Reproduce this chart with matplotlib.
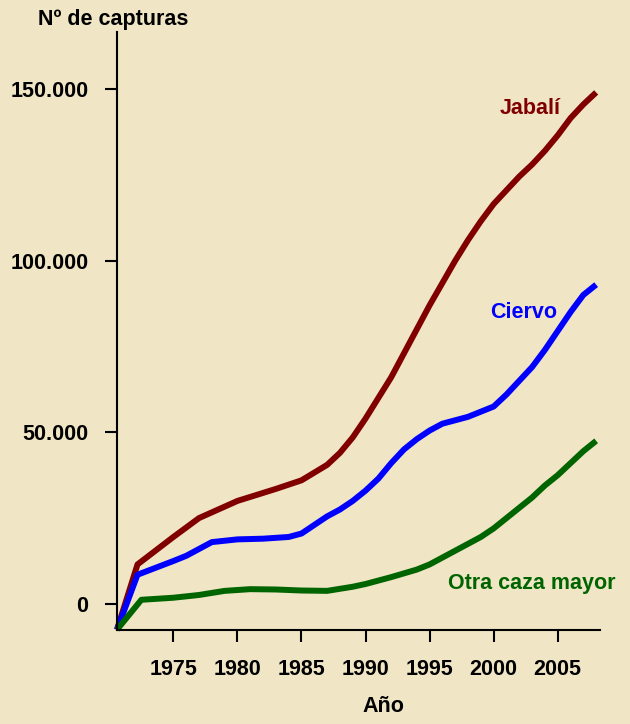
import matplotlib
matplotlib.use("Agg")
import matplotlib.pyplot as plt

# values (number of captures per year)
years_jabali = [1970.6, 1972.2, 1975, 1977, 1980, 1983, 1985, 1987, 1988, 1989, 1990,
                1991, 1992, 1993, 1994, 1995, 1996, 1997, 1998, 1999, 2000,
                2001, 2002, 2003, 2004, 2005, 2006, 2007, 2008]
jabali = [-7500, 11500, 19500, 25000, 30000, 33500, 36000, 40500, 44000, 48500, 54000,
          60000, 66000, 73000, 80000, 87000, 93500, 100000, 106000, 111500, 116500,
          120500, 124500, 128000, 132000, 136500, 141500, 145500, 149000]

years_ciervo = [1970.6, 1972.2, 1975, 1976, 1977, 1978, 1980, 1982, 1984, 1985, 1986,
                1987, 1988, 1989, 1990, 1991, 1992, 1993, 1994, 1995, 1996, 1997,
                1998, 1999, 2000, 2001, 2002, 2003, 2004, 2005, 2006, 2007, 2008]
ciervo = [-7500, 8500, 12500, 14000, 16000, 18000, 18800, 19000, 19500, 20500, 23000,
          25500, 27500, 30000, 33000, 36500, 41000, 45000, 48000, 50500, 52500, 53500,
          54500, 56000, 57500, 61000, 65000, 69000, 74000, 79500, 85000, 90000, 93000]

years_otra = [1970.6, 1972.5, 1975, 1977, 1979, 1981, 1983, 1985, 1987, 1989, 1990,
              1992, 1994, 1995, 1996, 1997, 1998, 1999, 2000, 2001, 2002, 2003,
              2004, 2005, 2006, 2007, 2008]
otra = [-7500, 1200, 1800, 2600, 3800, 4300, 4200, 3900, 3800, 5000, 5800,
        7800, 10000, 11500, 13500, 15500, 17500, 19500, 22000, 25000, 28000, 31000,
        34500, 37500, 41000, 44500, 47500]

xticks = [1975, 1980, 1985, 1990, 1995, 2000, 2005]
yticks = [0, 50000, 100000, 150000]
ytick_labels = ["0", "50.000", "100.000", "150.000"]

bg = "#F0E5C5"
fs = 15.5
plt.rcParams["font.family"] = ["Liberation Sans", "DejaVu Sans"]
plt.rcParams["font.weight"] = "bold"

fig = plt.figure(figsize=(6.3, 7.24), dpi=100, facecolor=bg)
W, H = 630, 724
ax = fig.add_axes([117 / W, 1 - 630 / H, (600 - 117) / W, (630 - 32) / H])
ax.set_facecolor(bg)

style = dict(lw=4.3, solid_capstyle="butt", solid_joinstyle="round", clip_on=False)
ax.plot(years_jabali, jabali, color="#800000", **style)
ax.plot(years_ciervo, ciervo, color="#0000FF", **style)
ax.plot(years_otra, otra, color="#006400", **style)

ax.set_xlim(1970.6, 2008.3)
ax.set_ylim(-7600, 166600)

ax.set_xticks(xticks)
ax.set_xticklabels([str(y) for y in xticks], fontsize=fs, fontweight="bold")
ax.set_yticks(yticks)
ax.set_yticklabels(ytick_labels, fontsize=fs, fontweight="bold")

for s in ["top", "right"]:
    ax.spines[s].set_visible(False)
for s in ["left", "bottom"]:
    ax.spines[s].set_linewidth(1.5)
ax.tick_params(axis="x", length=8.6, width=1.5, pad=12)
ax.tick_params(axis="y", length=8.6, width=1.5, pad=12)

fig.text(113 / W, 1 - 19 / H, "Nº de capturas", ha="center", va="center",
         fontsize=fs, fontweight="bold")
fig.text(383 / W, 1 - 707 / H, "Año", ha="center", va="center",
         fontsize=fs, fontweight="bold")
fig.text(530 / W, 1 - 108 / H, "Jabalí", ha="center", va="center",
         fontsize=fs, fontweight="bold", color="#800000")
fig.text(524 / W, 1 - 312 / H, "Ciervo", ha="center", va="center",
         fontsize=fs, fontweight="bold", color="#0000FF")
fig.text(532 / W, 1 - 583 / H, "Otra caza mayor", ha="center", va="center",
         fontsize=fs, fontweight="bold", color="#006400")

fig.savefig("out.png", dpi=100, facecolor=bg)
